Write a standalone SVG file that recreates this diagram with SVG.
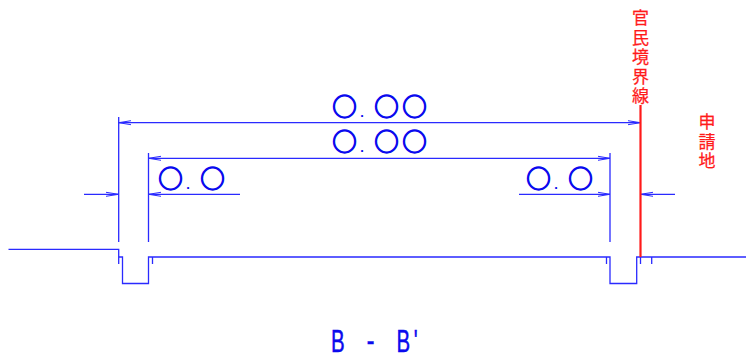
<svg xmlns="http://www.w3.org/2000/svg" width="746" height="360" viewBox="0 0 746 360">
<style>
.l{fill:none;stroke:#2a2aff;stroke-width:1.3}
.a{fill:none;stroke:#2a2aff;stroke-width:1}
.d{font-family:"Noto Sans CJK JP","DejaVu Sans",sans-serif;font-size:24.5px;fill:#0a0aee;stroke:#0a0aee;stroke-width:1.3;text-anchor:middle}
.p{stroke:none;font-family:"Liberation Sans",sans-serif;font-size:13px;font-weight:bold}
.r{font-family:"Noto Sans CJK JP",sans-serif;font-size:17px;fill:#ff1a1a;stroke:#ff1a1a;stroke-width:.25;writing-mode:vertical-rl;letter-spacing:2.5px}
.t{font-family:"Liberation Sans",sans-serif;font-size:31px;fill:#0a0aee;stroke:#0a0aee;stroke-width:.5;text-anchor:middle}
.h{font-family:"Liberation Mono",monospace;font-size:32px}
</style>
<rect width="746" height="360" fill="#fff"/>
<g id="connectors">
<path class="l" d="M118.7 117V242M148.5 153V242M610 153V242"/>
<path class="l" d="M118.7 122.7H640.5M148.5 158.3H610M148.5 194.3H240M84 194.3H118.7M519 194.3H610M640.5 194.3H675"/>
<path class="a" d="M131 120.7L118.7 122.7L131 124.7M628 120.7L640.5 122.7L628 124.7M161 156.3L148.5 158.3L161 160.3M598 156.3L610 158.3L598 160.3M161 192.3L148.5 194.3L161 196.3M106 192.3L118.7 194.3L106 196.3M598 192.3L610 194.3L598 196.3M653 192.3L640.5 194.3L653 196.3"/>
</g>
<g id="ground">
<path class="l" d="M8.5 249.3H118.7V264M118.7 257H122.5V283.5H148.5V257H610V283.5H636.7V257H746"/>
<path class="l" d="M152.5 257V264M606.5 257V264M640.5 257V264M651.7 257V264"/>
</g>
<g id="boundary">
<path d="M640.5 105V257" fill="none" stroke="#ff1a1a" stroke-width="2.2"/>
<text class="r" x="640.5" y="9.5">官民境界線</text>
</g>
<g id="site"><text class="r" x="707" y="113.5">申請地</text></g>
<g id="dim-total"><text class="d" y="116"><tspan x="344.5">○</tspan><tspan class="p" x="362" y="117">.</tspan><tspan x="386.5" y="116">○</tspan><tspan x="414.5">○</tspan></text></g>
<g id="dim-inner"><text class="d" y="151"><tspan x="344.5">○</tspan><tspan class="p" x="362" y="152">.</tspan><tspan x="386.5" y="151">○</tspan><tspan x="414.5">○</tspan></text></g>
<g id="dim-left"><text class="d" y="188"><tspan x="170.5">○</tspan><tspan class="p" x="188" y="189">.</tspan><tspan x="212.5" y="188">○</tspan></text></g>
<g id="dim-right"><text class="d" y="188"><tspan x="538.5">○</tspan><tspan class="p" x="556" y="189">.</tspan><tspan x="580.5" y="188">○</tspan></text></g>
<g id="title"><text class="t" transform="translate(0 352) scale(.66 1)"><tspan x="516">B</tspan> <tspan class="h" x="566" y="-1.5">-</tspan> <tspan x="611" y="0">B</tspan><tspan x="630">'</tspan></text></g>
</svg>
